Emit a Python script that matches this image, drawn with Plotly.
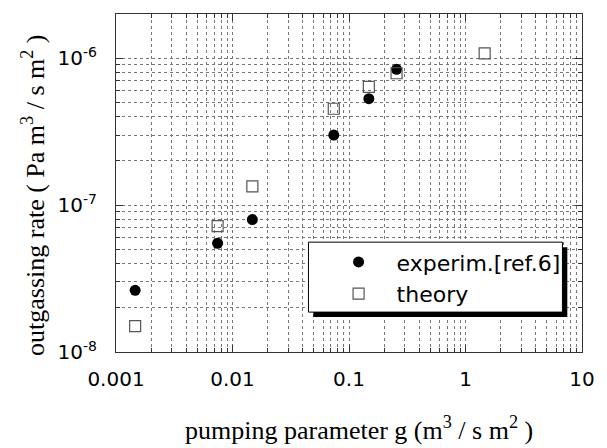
import plotly.graph_objects as go

# data
exp_x = [0.00146, 0.00745, 0.0148, 0.074, 0.148, 0.256]
exp_y = [2.63e-8, 5.5e-8, 7.97e-8, 3.0e-7, 5.3e-7, 8.4e-7]
th_x = [0.00146, 0.00745, 0.0148, 0.074, 0.148, 0.256, 1.46]
th_y = [1.5e-8, 7.2e-8, 1.34e-7, 4.53e-7, 6.39e-7, 7.9e-7, 1.08e-6]

x_major = [0.001, 0.01, 0.1, 1, 10]
x_major_text = ["0.001", "0.01", "0.1", "1", "10"]
y_major = [1e-8, 1e-7, 1e-6]
y_major_text = ["10<sup>-8</sup>", "10<sup>-7</sup>", "10<sup>-6</sup>"]

x_minor = [m * 10 ** e for e in range(-3, 1) for m in range(2, 10)]
y_minor = [m * 10 ** e for e in range(-8, -6) for m in range(2, 10)] + [2e-6]

fig = go.Figure()
fig.add_trace(go.Scatter(x=exp_x, y=exp_y, mode="markers", name="experim.[ref.6]",
                         marker=dict(symbol="circle", size=11, color="black")))
fig.add_trace(go.Scatter(x=th_x, y=th_y, mode="markers", name="theory",
                         marker=dict(symbol="square-open", size=11, color="#555",
                                     line=dict(width=1.2))))

gridc = "#777"
common = dict(showline=True, linecolor="#333", linewidth=1, mirror="ticks",
              ticks="inside", ticklen=7, tickcolor="#333",
              showgrid=True, gridcolor=gridc, griddash="dot", gridwidth=1,
              zeroline=False,
              tickfont=dict(family="DejaVu Sans", size=20, color="black"))

fig.update_xaxes(type="log", range=[-3, 1], tickmode="array", tickvals=x_major,
                 ticktext=x_major_text, ticklabelstandoff=9,
                 minor=dict(tickmode="array", tickvals=x_minor, ticks="inside", ticklen=4,
                            tickcolor="#333", showgrid=True, gridcolor=gridc, griddash="dot",
                            gridwidth=1),
                 **common)
fig.update_yaxes(type="log", range=[-8, 6.30103 - 12], tickmode="array", tickvals=y_major,
                 ticktext=y_major_text, ticklabelstandoff=14,
                 minor=dict(tickmode="array", tickvals=y_minor, ticks="inside", ticklen=4,
                            tickcolor="#333", showgrid=True, gridcolor=gridc, griddash="dot",
                            gridwidth=1),
                 **common)

title_font = dict(family="Liberation Serif", size=26, color="black")
fig.add_annotation(text="pumping parameter g (m<sup>3</sup> / s m<sup>2</sup> )",
                   xref="paper", yref="paper", x=0.5205, y=-0.227,
                   xanchor="center", yanchor="middle", showarrow=False, font=title_font)
fig.add_annotation(text="outgassing rate ( Pa m<sup>3</sup> / s m<sup>2</sup> )",
                   xref="paper", yref="paper", x=-0.176, y=0.4645, textangle=-90,
                   xanchor="center", yanchor="middle", showarrow=False, font=title_font)

# legend box with drop shadow
bx0, bx1, by0, by1 = 0.413, 0.958, 0.118, 0.325
sx, sy = 5 / 477, 5 / 338
fig.add_shape(type="rect", xref="paper", yref="paper", x0=bx0 + sx, x1=bx1 + sx,
              y0=by0 - sy, y1=by1 - sy, fillcolor="black", line=dict(width=0), layer="above")
fig.add_shape(type="rect", xref="paper", yref="paper", x0=bx0, x1=bx1, y0=by0, y1=by1,
              fillcolor="white", line=dict(color="black", width=1), layer="above")

fig.update_layout(
    width=607, height=448,
    margin=dict(l=116, r=14, t=14, b=96),
    plot_bgcolor="white", paper_bgcolor="white",
    showlegend=True,
    legend=dict(x=0.439, y=0.328, xanchor="left", yanchor="top",
                bgcolor="rgba(0,0,0,0)", borderwidth=0,
                font=dict(family="DejaVu Sans", size=22, color="black"),
                itemwidth=66, tracegroupgap=0),
)

fig.write_html("out.html")
